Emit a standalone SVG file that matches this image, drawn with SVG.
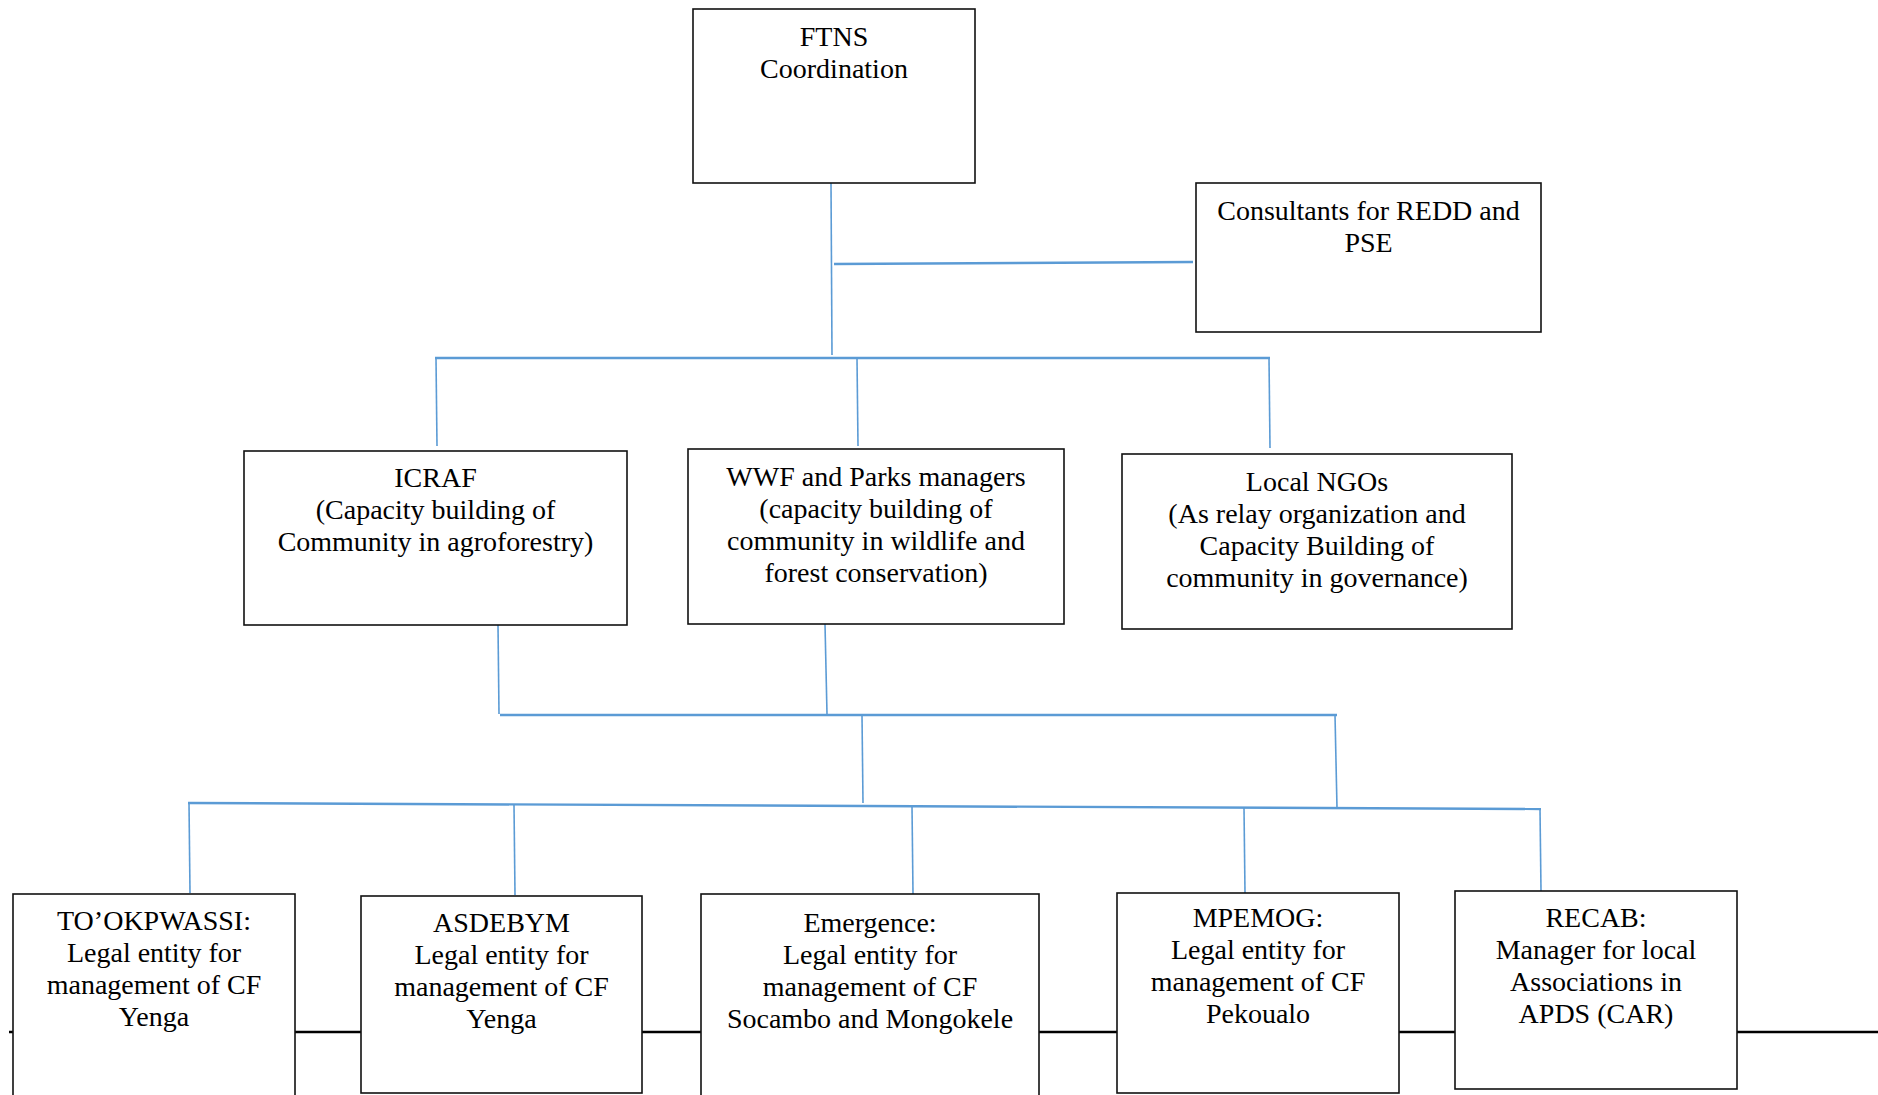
<svg xmlns="http://www.w3.org/2000/svg" width="1878" height="1095" viewBox="0 0 1878 1095">
<style>
.box{fill:#fff;stroke:#111;stroke-width:1.6}
.lbl{font-family:"Liberation Serif","Times New Roman",serif;font-size:28px;fill:#000;text-anchor:middle}
.con{stroke:#5B9BD5;stroke-width:1.6;fill:none}
.bus{stroke:#5B9BD5;stroke-width:2.4;fill:none}
</style>
<rect width="1878" height="1095" fill="#fff"/>
<g id="baseline">
<line x1="9" y1="1032" x2="1878" y2="1032" stroke="#000" stroke-width="2.5"/>
</g>
<g id="connectors">
<line class="con" x1="831" y1="183" x2="832" y2="355"/>
<line class="bus" x1="834" y1="264" x2="1193" y2="262"/>
<line class="bus" x1="435" y1="358" x2="1270" y2="358"/>
<line class="con" x1="436" y1="358" x2="437" y2="446"/>
<line class="con" x1="857" y1="358" x2="858" y2="446"/>
<line class="con" x1="1269" y1="358" x2="1270" y2="448"/>
<line class="con" x1="498" y1="625" x2="499" y2="714"/>
<line class="con" x1="825" y1="624" x2="827" y2="714"/>
<line class="bus" x1="500" y1="715" x2="1337" y2="715"/>
<line class="con" x1="862" y1="715" x2="863" y2="803"/>
<line class="con" x1="1335" y1="715" x2="1337" y2="808"/>
<line class="bus" x1="188" y1="803" x2="1541" y2="809"/>
<line class="con" x1="189" y1="803" x2="190" y2="893"/>
<line class="con" x1="514" y1="805" x2="515" y2="895"/>
<line class="con" x1="912" y1="806" x2="913" y2="894"/>
<line class="con" x1="1244" y1="808" x2="1245" y2="893"/>
<line class="con" x1="1540" y1="809" x2="1541" y2="891"/>
</g>
<g id="ftns">
<rect class="box" x="693" y="9" width="282" height="174"/>
<text class="lbl" x="834" y="46">FTNS</text>
<text class="lbl" x="834" y="78">Coordination</text>
</g>
<g id="consultants">
<rect class="box" x="1196" y="183" width="345" height="149"/>
<text class="lbl" x="1368.5" y="220">Consultants for REDD and</text>
<text class="lbl" x="1368.5" y="252">PSE</text>
</g>
<g id="icraf">
<rect class="box" x="244" y="451" width="383" height="174"/>
<text class="lbl" x="435.5" y="487">ICRAF</text>
<text class="lbl" x="435.5" y="519">(Capacity building of</text>
<text class="lbl" x="435.5" y="551">Community in agroforestry)</text>
</g>
<g id="wwf">
<rect class="box" x="688" y="449" width="376" height="175"/>
<text class="lbl" x="876" y="486">WWF and Parks managers</text>
<text class="lbl" x="876" y="518">(capacity building of</text>
<text class="lbl" x="876" y="550">community in wildlife and</text>
<text class="lbl" x="876" y="582">forest conservation)</text>
</g>
<g id="ngos">
<rect class="box" x="1122" y="454" width="390" height="175"/>
<text class="lbl" x="1317" y="491">Local NGOs</text>
<text class="lbl" x="1317" y="523">(As relay organization and</text>
<text class="lbl" x="1317" y="555">Capacity Building of</text>
<text class="lbl" x="1317" y="587">community in governance)</text>
</g>
<g id="tookpwassi">
<rect class="box" x="13" y="894" width="282" height="215"/>
<text class="lbl" x="154" y="930">TO’OKPWASSI:</text>
<text class="lbl" x="154" y="962">Legal entity for</text>
<text class="lbl" x="154" y="994">management of CF</text>
<text class="lbl" x="154" y="1026">Yenga</text>
</g>
<g id="asdebym">
<rect class="box" x="361" y="896" width="281" height="197"/>
<text class="lbl" x="501.5" y="932">ASDEBYM</text>
<text class="lbl" x="501.5" y="964">Legal entity for</text>
<text class="lbl" x="501.5" y="996">management of CF</text>
<text class="lbl" x="501.5" y="1028">Yenga</text>
</g>
<g id="emergence">
<rect class="box" x="701" y="894" width="338" height="215"/>
<text class="lbl" x="870" y="932">Emergence:</text>
<text class="lbl" x="870" y="964">Legal entity for</text>
<text class="lbl" x="870" y="996">management of CF</text>
<text class="lbl" x="870" y="1028">Socambo and Mongokele</text>
</g>
<g id="mpemog">
<rect class="box" x="1117" y="893" width="282" height="200"/>
<text class="lbl" x="1258" y="927">MPEMOG:</text>
<text class="lbl" x="1258" y="959">Legal entity for</text>
<text class="lbl" x="1258" y="991">management of CF</text>
<text class="lbl" x="1258" y="1023">Pekoualo</text>
</g>
<g id="recab">
<rect class="box" x="1455" y="891" width="282" height="198"/>
<text class="lbl" x="1596" y="927">RECAB:</text>
<text class="lbl" x="1596" y="959">Manager for local</text>
<text class="lbl" x="1596" y="991">Associations in</text>
<text class="lbl" x="1596" y="1023">APDS (CAR)</text>
</g>
</svg>
